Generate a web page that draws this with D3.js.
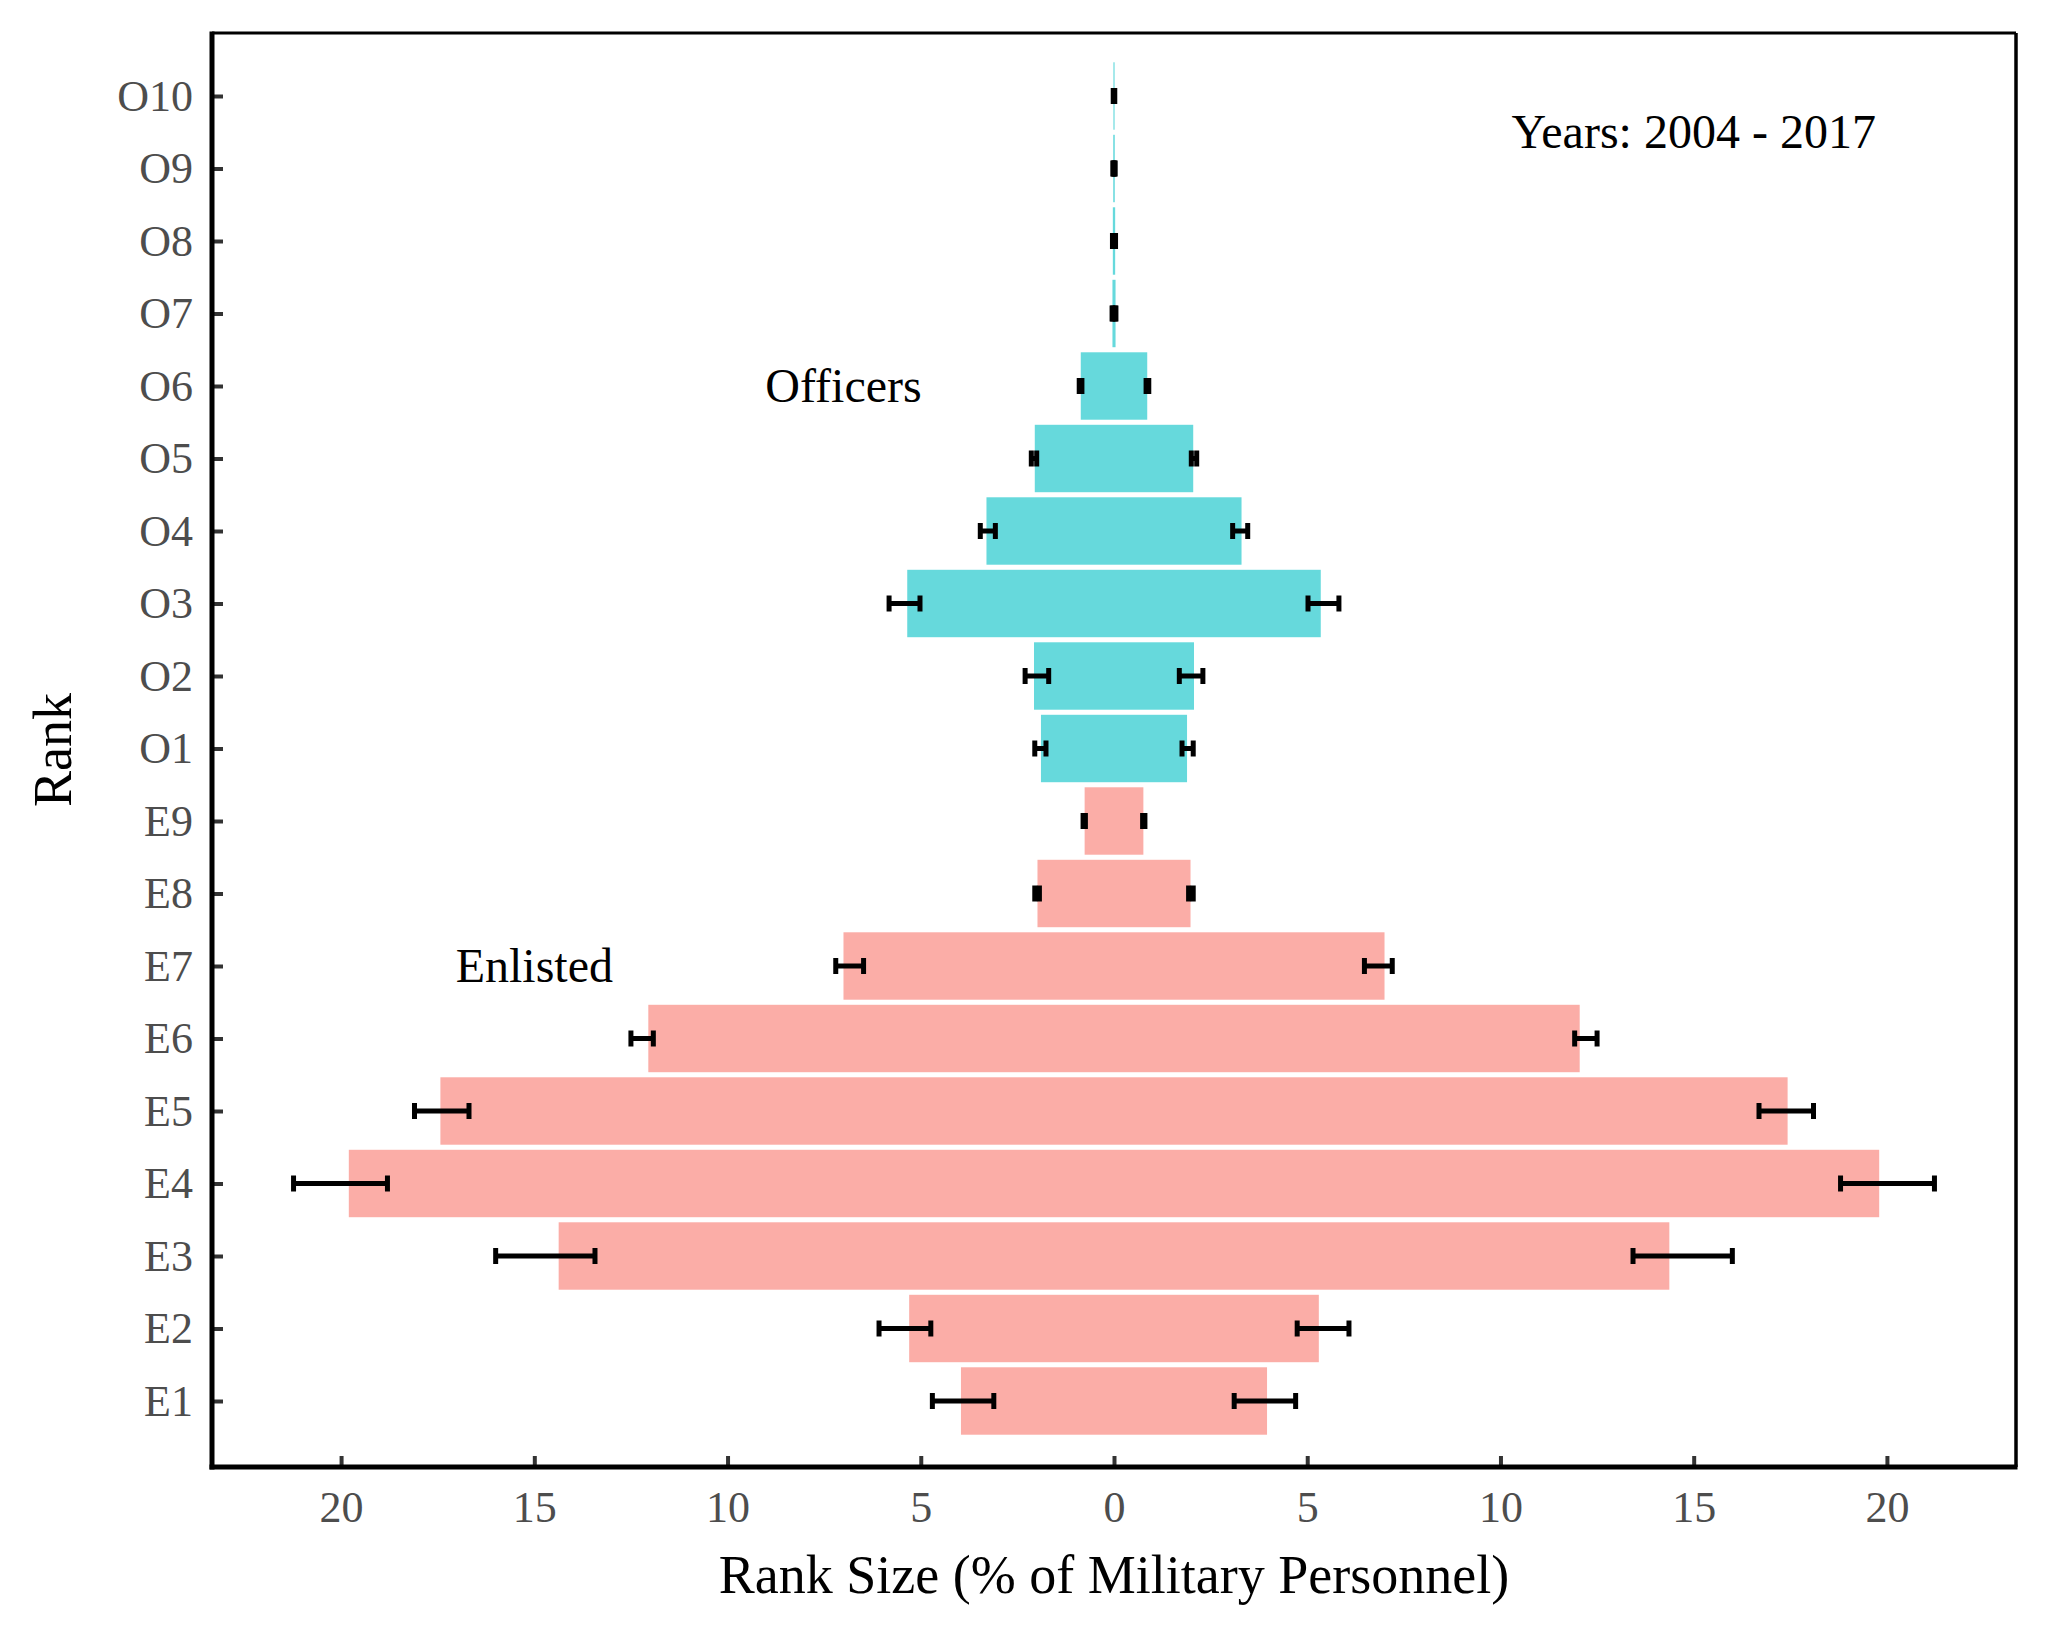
<!DOCTYPE html>
<html>
<head>
<meta charset="utf-8">
<script src="https://cdn.jsdelivr.net/npm/d3@7"></script>
<style>
  html, body { margin: 0; padding: 0; background: #fff; }
  svg { display: block; }
  text { font-family: "Liberation Serif", "Times New Roman", Times, serif; }
</style>
</head>
<body>
<div id="chart"></div>
<script>
// ---- Data ----
const ranks = ["E1","E2","E3","E4","E5","E6","E7","E8","E9","O1","O2","O3","O4","O5","O6","O7","O8","O9","O10"];
const groups = ["Enlisted","Enlisted","Enlisted","Enlisted","Enlisted","Enlisted","Enlisted","Enlisted","Enlisted",
                "Officers","Officers","Officers","Officers","Officers","Officers","Officers","Officers","Officers","Officers"];
const meanPct  = [3.96, 5.30, 14.37, 19.80, 17.43, 12.05, 7.00, 1.98, 0.76, 1.89, 2.07, 5.35, 3.30, 2.05, 0.86, 0.040, 0.030, 0.020, 0.015];
const lowerPct = [3.11, 4.74, 13.43, 18.80, 16.69, 11.92, 6.48, 1.93, 0.74, 1.76, 1.69, 5.02, 3.07, 2.00, 0.83, 0.030, 0.020, 0.015, 0.010];
const upperPct = [4.70, 6.08, 16.00, 21.23, 18.10, 12.50, 7.20, 2.05, 0.80, 2.05, 2.30, 5.82, 3.46, 2.14, 0.90, 0.050, 0.040, 0.030, 0.020];
const xTicks = [-20, -15, -10, -5, 0, 5, 10, 15, 20];
const groupColors = { "Enlisted": "#FBADA7", "Officers": "#66D9DC" };
const annotations = [
  { text: "Officers", x: -7, rank: "O6" },
  { text: "Enlisted", x: -15, rank: "E7" }
];
const yearsLabel = "Years: 2004 - 2017";
const xTitle = "Rank Size (% of Military Personnel)";
const yTitle = "Rank";

(function () {
// ---- Layout ----
const W = 2048, H = 1638;
const pL = 212, pR = 2016, pT = 33, pB = 1467;

const svg = d3.select("#chart").append("svg")
  .attr("width", W).attr("height", H);

const x = d3.scaleLinear().domain([-23.34, 23.34]).range([pL, pR]);
const y = d3.scalePoint().domain(ranks.slice().reverse()).range([96, 1401]).padding(0);
const barH = y.step() * 0.93;

const data = ranks.map((r, i) => ({
  rank: r, group: groups[i], v: meanPct[i], lo: lowerPct[i], hi: upperPct[i]
}));

// Bars (mirrored pyramid)
svg.append("g").selectAll("rect").data(data).join("rect")
  .attr("x", d => x(-d.v))
  .attr("width", d => Math.max(x(d.v) - x(-d.v), 0.8))
  .attr("y", d => y(d.rank) - barH / 2)
  .attr("height", barH)
  .attr("fill", d => groupColors[d.group]);

// Error bars
const capH = 16;
const eb = svg.append("g").attr("stroke", "#000").attr("stroke-width", 5).attr("fill", "none");
data.forEach(d => {
  [[d.lo, d.hi], [-d.hi, -d.lo]].forEach(([a, b]) => {
    const yc = y(d.rank);
    eb.append("line").attr("x1", x(a)).attr("x2", x(b)).attr("y1", yc).attr("y2", yc);
    eb.append("line").attr("x1", x(a)).attr("x2", x(a)).attr("y1", yc - capH / 2).attr("y2", yc + capH / 2);
    eb.append("line").attr("x1", x(b)).attr("x2", x(b)).attr("y1", yc - capH / 2).attr("y2", yc + capH / 2);
  });
});

// Annotations
svg.append("g").selectAll("text").data(annotations).join("text")
  .attr("x", d => x(d.x)).attr("y", d => y(d.rank))
  .attr("dy", "0.33em").attr("text-anchor", "middle")
  .attr("font-size", 48).attr("fill", "#000")
  .text(d => d.text);
svg.append("text")
  .attr("x", x(15)).attr("y", (y("O10") + y("O9")) / 2)
  .attr("dy", "0.33em").attr("text-anchor", "middle")
  .attr("font-size", 48).attr("fill", "#000")
  .text(yearsLabel);

// Axes
const yAxis = svg.append("g").attr("transform", `translate(${pL},0)`)
  .call(d3.axisLeft(y).tickSize(-11).tickPadding(19));
const xAxis = svg.append("g").attr("transform", `translate(0,${pB})`)
  .call(d3.axisBottom(x).tickValues(xTicks).tickFormat(d => Math.abs(d)).tickSize(-11).tickPadding(24));
[yAxis, xAxis].forEach(g => {
  g.select(".domain").remove();
  g.selectAll(".tick line").attr("stroke", "#333").attr("stroke-width", 4);
  g.selectAll(".tick text").attr("font-size", 44).attr("fill", "#4D4D4D")
    .attr("font-family", "'Liberation Serif', 'Times New Roman', serif");
});

// Panel border (top/right thinner) and axis lines (left/bottom thicker)
svg.append("line").attr("x1", pL).attr("x2", pR).attr("y1", pT).attr("y2", pT)
  .attr("stroke", "#000").attr("stroke-width", 3);
svg.append("line").attr("x1", pR).attr("x2", pR).attr("y1", pT).attr("y2", pB)
  .attr("stroke", "#000").attr("stroke-width", 3.5);
svg.append("line").attr("x1", pL).attr("x2", pL).attr("y1", pT - 1.5).attr("y2", pB + 2.5)
  .attr("stroke", "#000").attr("stroke-width", 5);
svg.append("line").attr("x1", pL - 2.5).attr("x2", pR + 1.5).attr("y1", pB).attr("y2", pB)
  .attr("stroke", "#000").attr("stroke-width", 5);

// Axis titles
svg.append("text")
  .attr("x", (pL + pR) / 2).attr("y", 1574).attr("dy", "0.35em")
  .attr("text-anchor", "middle").attr("font-size", 54).attr("fill", "#000")
  .text(xTitle);
svg.append("text")
  .attr("transform", `translate(52,${(pT + pB) / 2}) rotate(-90)`)
  .attr("dy", "0.35em")
  .attr("text-anchor", "middle").attr("font-size", 54).attr("fill", "#000")
  .text(yTitle);
})();
</script>
</body>
</html>
